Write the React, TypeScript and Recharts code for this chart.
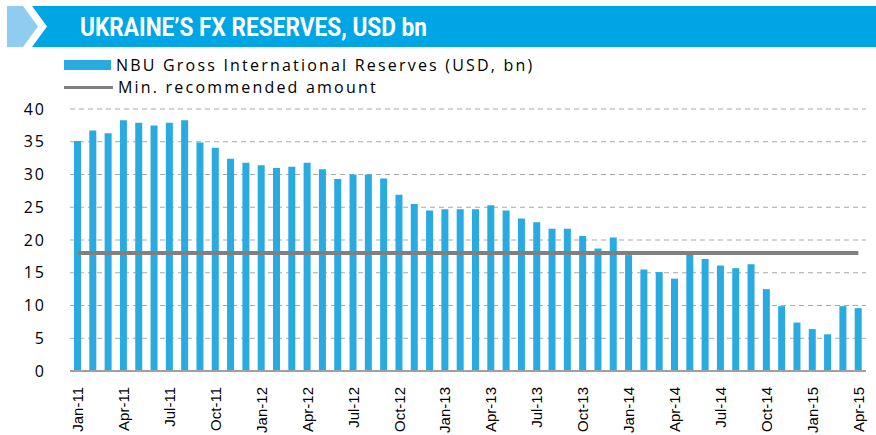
import { ComposedChart, Bar, Line, XAxis, YAxis, CartesianGrid } from "recharts";

const months = [
  "Jan-11", "Feb-11", "Mar-11", "Apr-11", "May-11", "Jun-11", "Jul-11", "Aug-11", "Sep-11", "Oct-11", "Nov-11", "Dec-11",
  "Jan-12", "Feb-12", "Mar-12", "Apr-12", "May-12", "Jun-12", "Jul-12", "Aug-12", "Sep-12", "Oct-12", "Nov-12", "Dec-12",
  "Jan-13", "Feb-13", "Mar-13", "Apr-13", "May-13", "Jun-13", "Jul-13", "Aug-13", "Sep-13", "Oct-13", "Nov-13", "Dec-13",
  "Jan-14", "Feb-14", "Mar-14", "Apr-14", "May-14", "Jun-14", "Jul-14", "Aug-14", "Sep-14", "Oct-14", "Nov-14", "Dec-14",
  "Jan-15", "Feb-15", "Mar-15", "Apr-15",
];

const reserves = [
  35.1, 36.7, 36.3, 38.3, 37.9, 37.5, 37.9, 38.3, 34.9, 34.1, 32.4, 31.8,
  31.4, 31.0, 31.2, 31.8, 30.8, 29.3, 30.0, 30.0, 29.4, 26.9, 25.5, 24.5,
  24.7, 24.7, 24.7, 25.3, 24.5, 23.3, 22.7, 21.7, 21.7, 20.6, 18.7, 20.4,
  17.7, 15.5, 15.1, 14.1, 17.9, 17.1, 16.1, 15.7, 16.3, 12.5, 9.9, 7.4,
  6.4, 5.6, 9.9, 9.6,
];

const minRecommended = months.map(() => 18);

const yTicks = [0, 5, 10, 15, 20, 25, 30, 35, 40];

const data = months.map((m, i) => ({ month: m, reserves: reserves[i], min: minRecommended[i] }));

const BAR_COLOR = "#29abe2";
const LINE_COLOR = "#808080";
const FONT = "'Open Sans', sans-serif";
const NARROW = "'Liberation Sans Narrow', 'Roboto', sans-serif";

function MonthTick({ x, y, payload }: any) {
  return (
    <g transform={`translate(${x},${y})`}>
      <text transform="rotate(-90)" x={-8} y={0} dy="0.36em" textAnchor="end" fontSize={15} fontFamily="'Liberation Sans', sans-serif" fill="#000">
        {payload.value}
      </text>
    </g>
  );
}

function LegendBox() {
  return (
    <div style={{ fontFamily: FONT, fontSize: 16, letterSpacing: 2.2, color: "#000", lineHeight: "22px" }}>
      <div style={{ display: "flex", alignItems: "center" }}>
        <span style={{ display: "inline-block", width: 47, height: 10, background: BAR_COLOR, marginRight: 5 }} />
        NBU Gross International Reserves (USD, bn)
      </div>
      <div style={{ display: "flex", alignItems: "center" }}>
        <span style={{ display: "inline-block", width: 49, height: 3, background: LINE_COLOR, marginRight: 5 }} />
        Min. recommended amount
      </div>
    </div>
  );
}

export default function App() {
  return (
    <div style={{ position: "absolute", left: 0, top: 0, width: 876, height: 435, background: "#fff" }}>
      <svg width={876} height={50} style={{ position: "absolute", left: 0, top: 0 }}>
        <polygon points="7,6 23,6 38,26.5 23,47 7,47" fill="#8fcdf0" />
        <polygon points="32,6 876,6 876,47 32,47 47,26.5" fill="#00a6e3" />
        <text x={80} y={36} fill="#fff" fontFamily={NARROW} fontWeight="bold" fontSize={25} textLength={347} lengthAdjust="spacingAndGlyphs">
          UKRAINE’S FX RESERVES, USD bn
        </text>
      </svg>
      <div style={{ position: "absolute", left: 64, top: 54 }}>
        <LegendBox />
      </div>
      <ComposedChart
        width={876}
        height={435}
        data={data}
        margin={{ top: 109, right: 10, bottom: 4, left: 10 }}
        barSize={7}
      >
        <CartesianGrid vertical={false} stroke="#a8a8a8" strokeDasharray="5 4" />
        <XAxis
          dataKey="month"
          interval={2}
          tick={<MonthTick />}
          tickLine={false}
          axisLine={{ stroke: "#a0a0a0", strokeWidth: 2 }}
          height={60}
        />
        <YAxis
          domain={[0, 40]}
          ticks={yTicks}
          tickLine={false}
          axisLine={false}
          tickSize={0}
          tickMargin={24}
          width={60}
          tick={{ fontSize: 16, fontFamily: FONT, fill: "#000", letterSpacing: 2 }}
        />
        <Bar dataKey="reserves" fill={BAR_COLOR} isAnimationActive={false} />
        <Line dataKey="min" stroke={LINE_COLOR} strokeWidth={4} dot={false} activeDot={false} isAnimationActive={false} />
      </ComposedChart>
    </div>
  );
}
